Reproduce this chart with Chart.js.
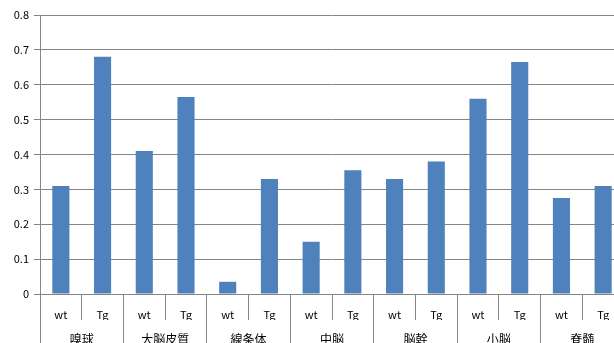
<!DOCTYPE html>
<html>
<head>
<meta charset="utf-8">
<script src="https://cdn.jsdelivr.net/npm/chart.js@4"></script>
<style>
  html, body { margin: 0; padding: 0; background: #fff; overflow: hidden; }
  #wrap { width: 624px; height: 355px; }
</style>
</head>
<body>
<div id="wrap"><canvas id="chart1"></canvas></div>
<script>
// groups on the outer axis, wt/Tg inside each one
let groups = ["嗅球", "大脳皮質", "線条体", "中脳", "脳幹", "小脳", "脊髄"];
let subLabels = ["wt", "Tg"];
let wtValues = [0.31, 0.41, 0.035, 0.15, 0.33, 0.56, 0.275];
let tgValues = [0.68, 0.565, 0.33, 0.355, 0.38, 0.665, 0.31];
let yTicks = [0, 0.1, 0.2, 0.3, 0.4, 0.5, 0.6, 0.7, 0.8];

let labels = [];
let values = [];
groups.forEach((g, i) => {
    labels.push(subLabels[0]); values.push(wtValues[i]);
    labels.push(subLabels[1]); values.push(tgValues[i]);
});

Chart.defaults.font.family = '"Noto Sans CJK JP", "DejaVu Sans", sans-serif';
Chart.defaults.color = "#000";

new Chart(document.getElementById("chart1"), {
    type: "bar",
    data: {
        labels: labels,
        datasets: [{ data: values, backgroundColor: "#4F81BD", xAxisID: "x", yAxisID: "y",
            barPercentage: 0.41, categoryPercentage: 1.0 }]
    },
    options: {
        responsive: true,
        maintainAspectRatio: false,
        animation: false,
        layout: { padding: { top: 15, left: 0, right: 0, bottom: 0 } },
        plugins: { legend: { display: false }, tooltip: { enabled: false } },
        scales: {
            y: {
                min: 0, max: 0.8,
                afterBuildTicks: s => { s.ticks = yTicks.map(v => ({ value: v })); },
                afterFit: s => { s.width = 40; },
                ticks: { font: { size: 11 }, padding: 5,
                    callback: v => v === 0 ? "0" : String(v) },
                grid: { color: "#858585", tickLength: 6 },
                border: { color: "#858585" }
            },
            x: {
                position: "bottom",
                offset: true,
                afterFit: s => { s.height = 26; },
                ticks: { font: { size: 11 }, padding: -12, autoSkip: false, maxRotation: 0 },
                grid: { offset: true, drawOnChartArea: false, tickLength: 26, color: "#858585" },
                border: { color: "#858585" }
            },
            x2: {
                type: "category",
                labels: groups,
                position: "bottom",
                offset: true,
                afterFit: s => { s.height = 35; },
                ticks: { font: { size: 12 }, padding: -23, autoSkip: false, maxRotation: 0 },
                grid: { offset: true, drawOnChartArea: false, tickLength: 35, color: "#858585" },
                border: { display: false }
            }
        }
    }
});
</script>
</body>
</html>
